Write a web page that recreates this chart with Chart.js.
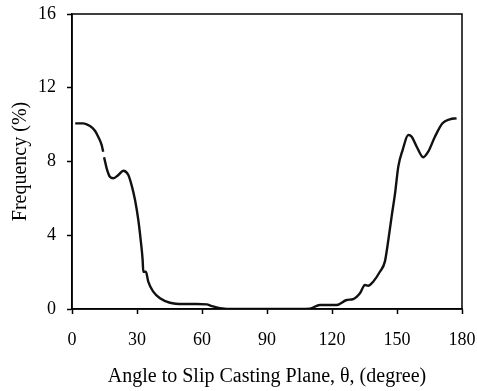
<!DOCTYPE html>
<html>
<head>
<meta charset="utf-8">
<script src="https://cdn.jsdelivr.net/npm/chart.js@4"></script>
<style>
  html, body { margin: 0; padding: 0; background: #fff; }
</style>
</head>
<body>
<canvas id="freqChart" width="477" height="391"></canvas>
<script>
// 각도 (degree) 와 빈도 (%)
const angles = [1.5, 5.2, 8.3, 10.6, 12.1, 13.7, 14.4, 14.6, 14.8, 16, 17.5, 19.1, 21.4, 23.7, 26, 27.5,
  29.1, 30.6, 31.7, 32.6, 32.9, 34.1, 35.2, 37.5, 40.6, 45.2, 51.4, 57.5, 62.2, 64.5, 68.3, 75, 90, 105,
  109.8, 114.4, 122.1, 126.8, 129.8, 132.9, 135.2, 136.7, 139, 142.1, 144.4, 146, 147.5, 149.1, 150.6,
  152.6, 155.2, 156.8, 159.1, 162.1, 164.4, 167.5, 171, 174.4, 177.5];
const frequency = [10.07, 10.07, 9.92, 9.67, 9.34, 8.89, 8.53, null, 8.23, 7.63, 7.17, 7.09, 7.27, 7.5, 7.27, 6.72,
  5.91, 4.83, 3.74, 2.66, 2.02, 2.02, 1.48, 0.94, 0.58, 0.34, 0.27, 0.27, 0.25, 0.16, 0.05, 0, 0, 0,
  0.02, 0.22, 0.22, 0.49, 0.54, 0.85, 1.3, 1.26, 1.48, 2.02, 2.57, 3.74, 5.0, 6.27, 7.72,
  8.62, 9.44, 9.34, 8.8, 8.23, 8.53, 9.34, 10.07, 10.29, 10.34];
const xTicks = [0, 30, 60, 90, 120, 150, 180];
const yTicks = [0, 4, 8, 12, 16];

const serif = "'Liberation Serif', 'Times New Roman', serif";

// 위/오른쪽 테두리
const frameBox = {
  id: "frameBox",
  afterDraw(chart) {
    const { ctx, chartArea: a } = chart;
    ctx.save();
    ctx.strokeStyle = "#000";
    ctx.lineWidth = 1.5;
    ctx.strokeRect(a.left, a.top, a.right - a.left, a.bottom - a.top);
    ctx.restore();
  },
};

const ctx = document.getElementById("freqChart").getContext("2d");
new Chart(ctx, {
  type: "line",
  data: {
    datasets: [
      {
        data: angles.map((a, i) => ({ x: a, y: frequency[i] })),
        borderColor: "#111",
        borderWidth: 2.4,
        pointRadius: 0,
        cubicInterpolationMode: "monotone",
        spanGaps: false,
      },
    ],
  },
  options: {
    responsive: false,
    animation: false,
    devicePixelRatio: 1,
    layout: { padding: { top: 14, right: 15, left: 0, bottom: 0 } },
    scales: {
      x: {
        type: "linear",
        min: 0,
        max: 180,
        afterBuildTicks: (s) => { s.ticks = xTicks.map((v) => ({ value: v })); },
        afterFit: (s) => { s.height = 82; s.paddingLeft = 0; s.paddingRight = 0; },
        ticks: { color: "#000", padding: 15, font: { family: serif, size: 18 } },
        grid: { drawOnChartArea: false, color: "#000", tickLength: 5, tickWidth: 1.5 },
        border: { color: "#000", width: 1.5 },
        title: {
          display: true,
          text: "Angle to Slip Casting Plane, θ, (degree)",
          color: "#000",
          font: { family: serif, size: 20 },
          padding: { top: 0, bottom: 2 },
        },
      },
      y: {
        min: 0,
        max: 16,
        afterBuildTicks: (s) => { s.ticks = yTicks.map((v) => ({ value: v })); },
        afterFit: (s) => { s.width = 72; s.paddingTop = 0; s.paddingBottom = 0; },
        ticks: { color: "#000", padding: 11, font: { family: serif, size: 18 } },
        grid: { drawOnChartArea: false, color: "#000", tickLength: 5, tickWidth: 1.5 },
        border: { color: "#000", width: 1.5 },
        title: {
          display: true,
          text: "Frequency (%)",
          color: "#000",
          font: { family: serif, size: 20 },
          padding: { top: 9, bottom: 0 },
        },
      },
    },
    plugins: {
      legend: { display: false },
      tooltip: { enabled: false },
    },
  },
  plugins: [frameBox],
});
</script>
</body>
</html>
